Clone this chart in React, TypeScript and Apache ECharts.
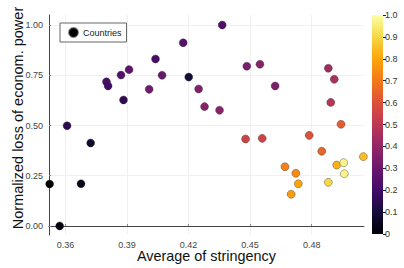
import React, { useEffect, useRef } from "react";
import * as echarts from "echarts";

const xValues = [0.3523, 0.3572, 0.3608, 0.3676, 0.3723, 0.38, 0.3808, 0.3871, 0.3883, 0.391, 0.4008, 0.4039, 0.4071, 0.4174, 0.4201, 0.4249, 0.4278, 0.4351, 0.4364, 0.4484, 0.4548, 0.4622, 0.4881, 0.491, 0.4893, 0.4943, 0.4478, 0.4559, 0.4788, 0.4849, 0.467, 0.4723, 0.4735, 0.47, 0.4881, 0.4922, 0.4956, 0.4959, 0.5052];
const yValues = [0.209, 0.0, 0.499, 0.21, 0.413, 0.718, 0.697, 0.751, 0.627, 0.778, 0.68, 0.831, 0.75, 0.912, 0.741, 0.682, 0.594, 0.576, 1.0, 0.795, 0.805, 0.697, 0.785, 0.73, 0.615, 0.506, 0.433, 0.436, 0.451, 0.372, 0.295, 0.262, 0.21, 0.158, 0.217, 0.303, 0.315, 0.26, 0.345];
const colorValues = [0.0, 0.02, 0.15, 0.03, 0.08, 0.22, 0.2, 0.24, 0.16, 0.27, 0.32, 0.22, 0.3, 0.25, 0.1, 0.36, 0.37, 0.38, 0.23, 0.34, 0.37, 0.35, 0.43, 0.46, 0.49, 0.63, 0.55, 0.55, 0.6, 0.65, 0.72, 0.74, 0.8, 0.78, 0.9, 0.82, 0.97, 0.97, 0.85];

const xTicks = [0.36, 0.39, 0.42, 0.45, 0.48];
const yTicks = [0, 0.25, 0.5, 0.75, 1.0];
const colorbarTicks = [0, 0.1, 0.2, 0.3, 0.4, 0.5, 0.6, 0.7, 0.8, 0.9, 1.0];

const inferno = ["#000004", "#160b39", "#420a68", "#6a176e", "#932667", "#bc3754", "#dd513a", "#f37819", "#fca50a", "#f6d746", "#fcffa4"];

const FONT = "Liberation Sans";

export default function App() {
  const ref = useRef<HTMLDivElement>(null);
  useEffect(() => {
    if (!ref.current) return;
    const chart = echarts.init(ref.current, null, { renderer: "svg" });
    const data = xValues.map((x, i) => [x, yValues[i], colorValues[i]]);
    chart.setOption({
      animation: false,
      backgroundColor: "#fff",
      grid: [
        { left: 49, top: 15, right: 40, bottom: 33, containLabel: false, outerBoundsMode: "none" },
        { left: 372, top: 15, width: 11, bottom: 34, containLabel: false, outerBoundsMode: "none" },
      ],
      legend: {
        left: 60,
        top: 23,
        orient: "vertical",
        data: [{ name: "Countries", icon: "circle", itemStyle: { color: "#000" } }],
        itemWidth: 9,
        itemHeight: 9,
        itemGap: 4,
        padding: [4, 5, 4, 8],
        borderColor: "#666",
        borderWidth: 1,
        borderRadius: 0,
        backgroundColor: "#fff",
        textStyle: { fontFamily: FONT, fontSize: 9, color: "#222" },
      },
      visualMap: {
        show: false,
        type: "continuous",
        seriesIndex: 0,
        dimension: 2,
        min: 0,
        max: 1,
        inRange: { color: inferno },
      },
      xAxis: [
        {
          gridIndex: 0,
          type: "value",
          min: 0.352,
          max: 0.5055,
          name: "Average of stringency",
          nameLocation: "middle",
          nameGap: 14,
          nameMoveOverlap: false,
          nameTextStyle: { fontFamily: FONT, fontSize: 14.4, color: "#111" },
          axisLine: { show: true, lineStyle: { color: "#444", width: 1 } },
          axisTick: { show: true, inside: true, length: 2, customValues: xTicks, lineStyle: { color: "#888" } },
          axisLabel: {
            customValues: xTicks,
            formatter: (v: number) => v.toFixed(2),
            fontFamily: FONT,
            fontSize: 9,
            color: "#444",
            margin: 5,
          },
          splitLine: { show: true, lineStyle: { color: "#f0f0f0", width: 1 } },
        },
        {
          gridIndex: 1,
          type: "category",
          data: ["c"],
          show: false,
        },
      ],
      yAxis: [
        {
          gridIndex: 0,
          type: "value",
          min: -0.045,
          max: 1.05,
          name: "Normalized loss of econom. power",
          nameLocation: "middle",
          nameGap: 24,
          nameMoveOverlap: false,
          nameTextStyle: { fontFamily: FONT, fontSize: 14.5, color: "#111", padding: [0, 0, 0, 14] },
          axisLine: { show: true, lineStyle: { color: "#444", width: 1 } },
          axisTick: { show: true, inside: true, length: 2, customValues: yTicks, lineStyle: { color: "#888" } },
          axisLabel: {
            customValues: yTicks,
            formatter: (v: number) => v.toFixed(2),
            fontFamily: FONT,
            fontSize: 9,
            color: "#444",
            margin: 6,
          },
          splitLine: { show: true, lineStyle: { color: "#f0f0f0", width: 1 } },
        },
        {
          gridIndex: 1,
          type: "value",
          min: 0,
          max: 1,
          position: "right",
          axisLine: { show: false },
          axisTick: { show: true, length: 3, customValues: colorbarTicks, lineStyle: { color: "#222" } },
          axisLabel: {
            customValues: colorbarTicks,
            formatter: (v: number) => (v === 0 ? "0" : v.toFixed(1)),
            fontFamily: FONT,
            fontSize: 9,
            color: "#333",
            margin: 2,
          },
          splitLine: { show: false },
        },
      ],
      series: [
        {
          name: "Countries",
          type: "scatter",
          xAxisIndex: 0,
          yAxisIndex: 0,
          data,
          symbolSize: 8,
          itemStyle: { color: "#000", borderColor: "rgba(40,40,40,0.6)", borderWidth: 0.6, opacity: 1 },
        },
        {
          name: "colorbar",
          type: "bar",
          xAxisIndex: 1,
          yAxisIndex: 1,
          data: [1],
          barWidth: "100%",
          silent: true,
          itemStyle: {
            color: new echarts.graphic.LinearGradient(
              0, 1, 0, 0,
              inferno.map((c, i) => ({ offset: i / (inferno.length - 1), color: c }))
            ),
          },
        },
      ],
    });
    return () => chart.dispose();
  }, []);
  return <div ref={ref} style={{ width: 404, height: 268, position: "absolute", left: 0, top: 0 }} />;
}
